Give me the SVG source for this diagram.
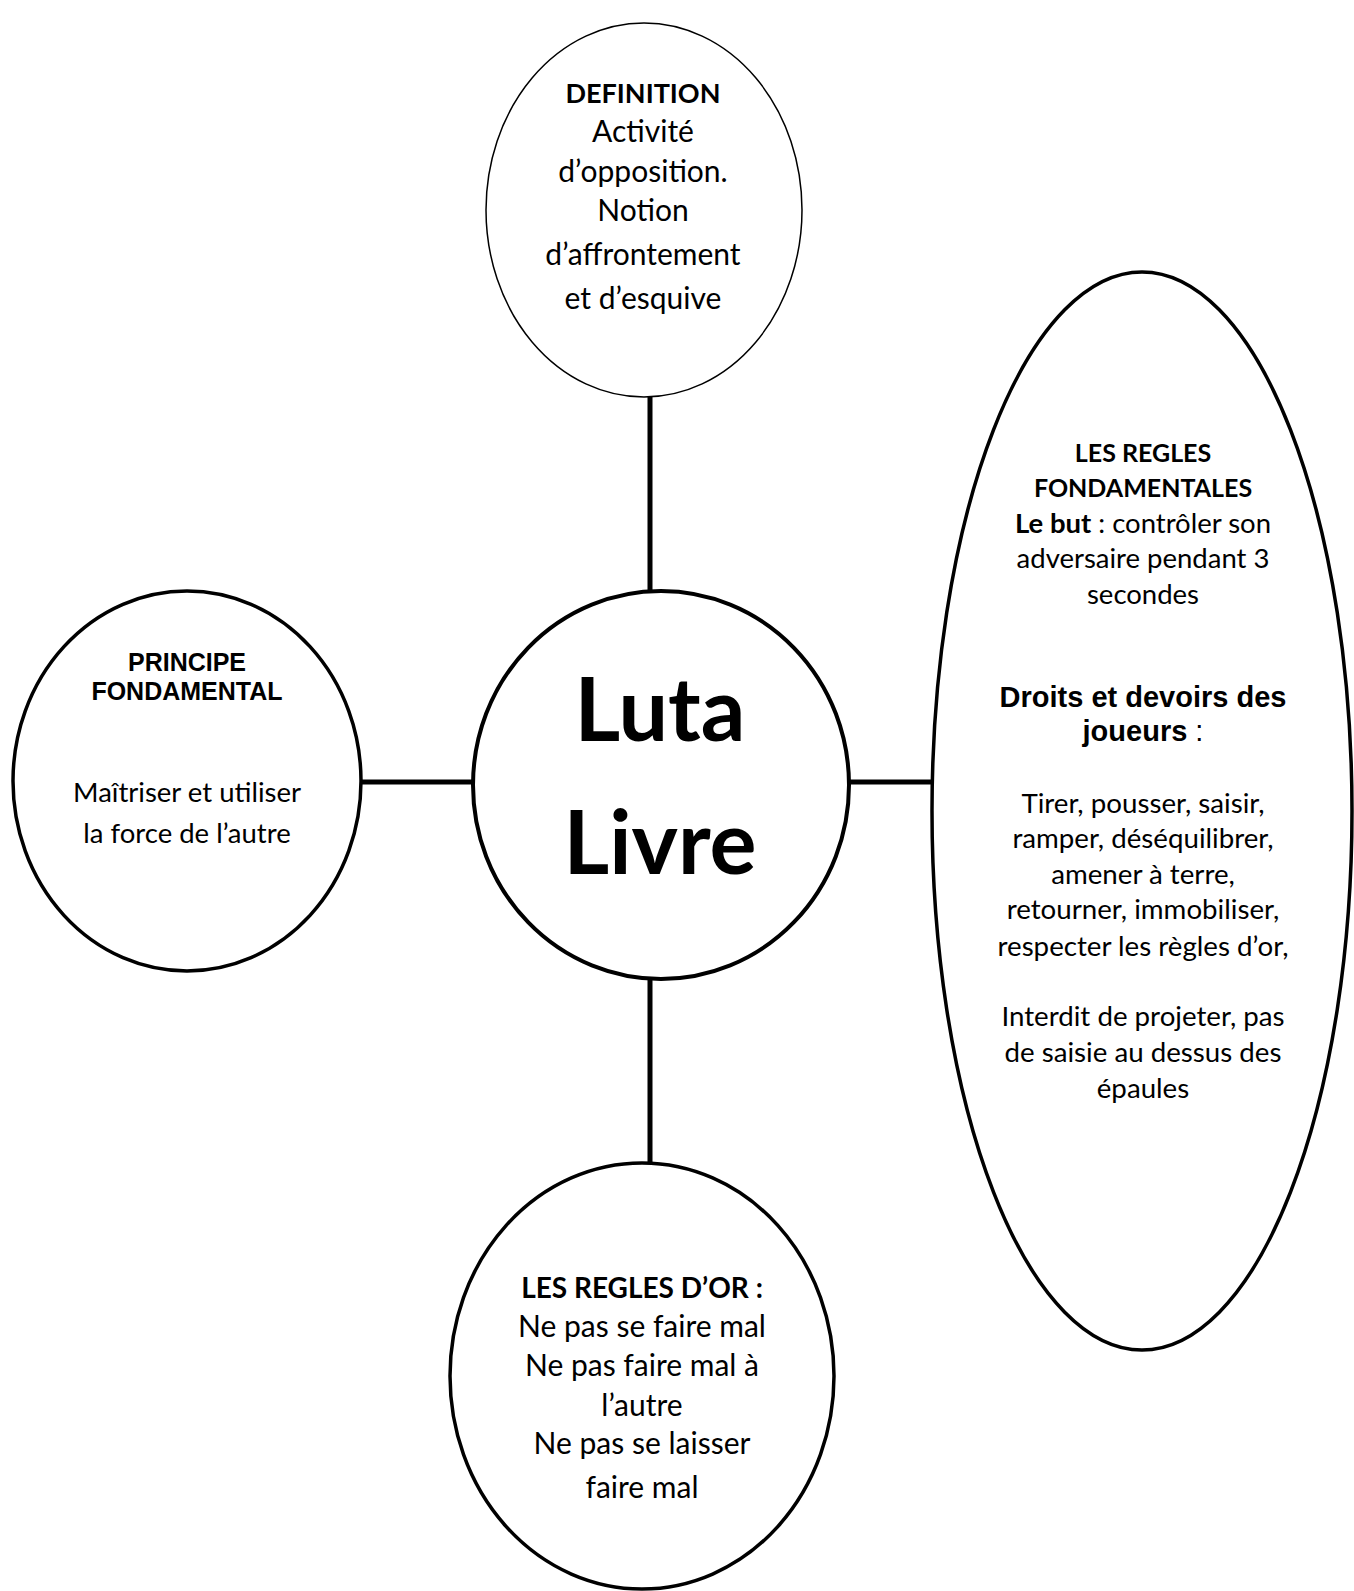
<svg xmlns="http://www.w3.org/2000/svg" width="1354" height="1591" viewBox="0 0 1354 1591">
<style>
.c{font-family:Lato,"Liberation Sans",sans-serif;fill:#000;text-anchor:middle}
.a{font-family:"Liberation Sans",Arial,sans-serif;fill:#000;text-anchor:middle;font-weight:bold}
.b{font-weight:bold}
.n{fill:#fff;stroke:#000}
.e{stroke:#000;stroke-width:5;fill:none}
</style>
<rect width="1354" height="1591" fill="#fff"/>
<g id="connectors">
<line class="e" x1="650" y1="395" x2="650" y2="592"/>
<line class="e" x1="650" y1="975" x2="650" y2="1165"/>
<line class="e" x1="360" y1="782" x2="474" y2="782"/>
<line class="e" x1="846" y1="782" x2="933" y2="782"/>
</g>
<g id="definition">
<ellipse class="n" cx="644" cy="210" rx="158" ry="187" stroke-width="1.5"/>
<text class="c b" x="643" y="103" font-size="27">DEFINITION</text>
<text class="c" font-size="30"><tspan x="643" y="142">Activité</tspan><tspan x="643" y="182">d’opposition.</tspan><tspan x="643" y="221">Notion</tspan><tspan x="643" y="265">d’affrontement</tspan><tspan x="643" y="309">et d’esquive</tspan></text>
</g>
<g id="center">
<ellipse class="n" cx="661" cy="785" rx="188" ry="194" stroke-width="4"/>
<text class="c b" x="660" y="741" font-size="88">Luta</text>
<text class="c b" x="660" y="874" font-size="88">Livre</text>
</g>
<g id="principe">
<ellipse class="n" cx="187" cy="781" rx="174" ry="190" stroke-width="3.5"/>
<text class="a" x="187" y="671" font-size="25">PRINCIPE</text>
<text class="a" x="187" y="700" font-size="25">FONDAMENTAL</text>
<text class="c" font-size="27.5"><tspan x="187" y="802">Maîtriser et utiliser</tspan><tspan x="187" y="843">la force de l’autre</tspan></text>
</g>
<g id="regles">
<ellipse class="n" cx="1142" cy="811" rx="210" ry="539" stroke-width="3.5"/>
<text class="c b" x="1143" y="462" font-size="25">LES REGLES</text>
<text class="c b" x="1143" y="497" font-size="25">FONDAMENTALES</text>
<text class="c" x="1143" y="533" font-size="27.5"><tspan class="b">Le but</tspan> : contrôler son</text>
<text class="c" font-size="27.5"><tspan x="1143" y="568">adversaire pendant 3</tspan><tspan x="1143" y="604">secondes</tspan></text>
<text class="a" x="1143" y="707" font-size="29">Droits et devoirs des</text>
<text class="a" x="1143" y="741" font-size="29">joueurs<tspan font-weight="normal"> :</tspan></text>
<text class="c" font-size="27.7"><tspan x="1143" y="813">Tirer, pousser, saisir,</tspan><tspan x="1143" y="848">ramper, déséquilibrer,</tspan><tspan x="1143" y="884">amener à terre,</tspan><tspan x="1143" y="919">retourner, immobiliser,</tspan><tspan x="1143" y="956">respecter les règles d’or,</tspan><tspan x="1143" y="1026">Interdit de projeter, pas</tspan><tspan x="1143" y="1062">de saisie au dessus des</tspan><tspan x="1143" y="1098">épaules</tspan></text>
</g>
<g id="regles-or">
<ellipse class="n" cx="642" cy="1376" rx="192" ry="213" stroke-width="3.5"/>
<text class="c b" x="642" y="1298" font-size="28">LES REGLES D’OR :</text>
<text class="c" font-size="30"><tspan x="642" y="1337">Ne pas se faire mal</tspan><tspan x="642" y="1376">Ne pas faire mal à</tspan><tspan x="642" y="1416">l’autre</tspan><tspan x="642" y="1454">Ne pas se laisser</tspan><tspan x="642" y="1498">faire mal</tspan></text>
</g>
</svg>
